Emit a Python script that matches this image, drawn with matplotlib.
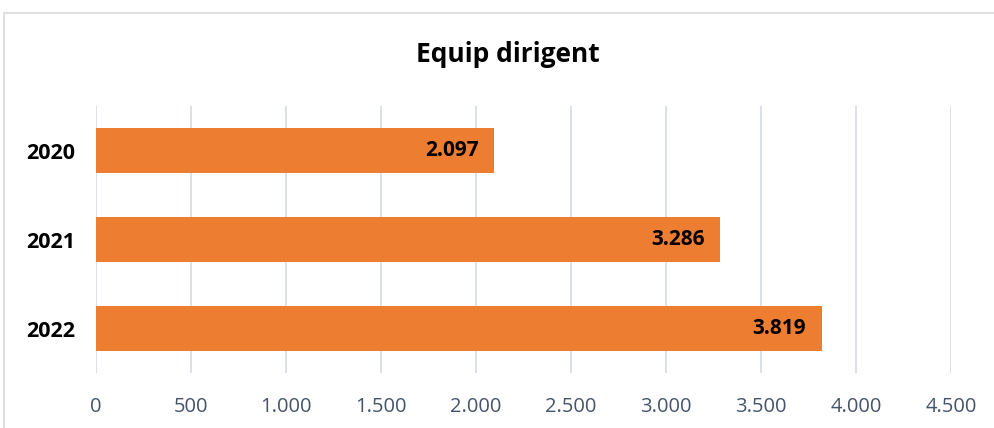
import matplotlib.pyplot as plt
from matplotlib.patches import Rectangle
from matplotlib.ticker import FuncFormatter

years = ['2020', '2021', '2022']
values = [2097, 3286, 3819]
x_ticks = [0, 500, 1000, 1500, 2000, 2500, 3000, 3500, 4000, 4500]

plt.rcParams['font.family'] = ['Open Sans', 'DejaVu Sans']


def dots(v, pos=None):
    return f'{int(v):,}'.replace(',', '.')


W, H = 995, 428
fig = plt.figure(figsize=(W / 100, H / 100), dpi=100)
ax = fig.add_axes([96 / W, 1 - 373 / H, (951 - 96) / W, (373 - 106) / H])

# chart border
fig.patches.append(Rectangle((4 / W, -0.1), 1.2, 1 - 13 / H + 0.1,
                             transform=fig.transFigure, fill=False,
                             edgecolor='#D9D9D9', linewidth=1.2))

ypos = range(len(years))
ax.barh(ypos, values, height=0.5, color='#ED7D31', zorder=3)
for y, v in zip(ypos, values):
    ax.text(v - 16 / 0.19, y, dots(v), ha='right', va='center',
            fontsize=15, fontweight='bold', color='black', zorder=4)

ax.set_xlim(0, 4500)
ax.set_ylim(2.5, -0.5)
ax.set_xticks(x_ticks)
ax.xaxis.set_major_formatter(FuncFormatter(dots))
ax.set_yticks(list(ypos))
ax.set_yticklabels(years, fontsize=15.5, fontweight='bold')
ax.tick_params(axis='x', length=0, pad=17, labelsize=14.5, labelcolor='#44546A')
ax.tick_params(axis='y', length=0, pad=15)
ax.grid(axis='x', color='#D9DEE6', linewidth=1.3, zorder=0)
for s in ax.spines.values():
    s.set_visible(False)

fig.text((415 + 600) / 2 / W, 1 - 55 / H, 'Equip dirigent', ha='center',
         va='center', fontsize=19, fontweight='bold')

fig.savefig('out.png', dpi=100)
